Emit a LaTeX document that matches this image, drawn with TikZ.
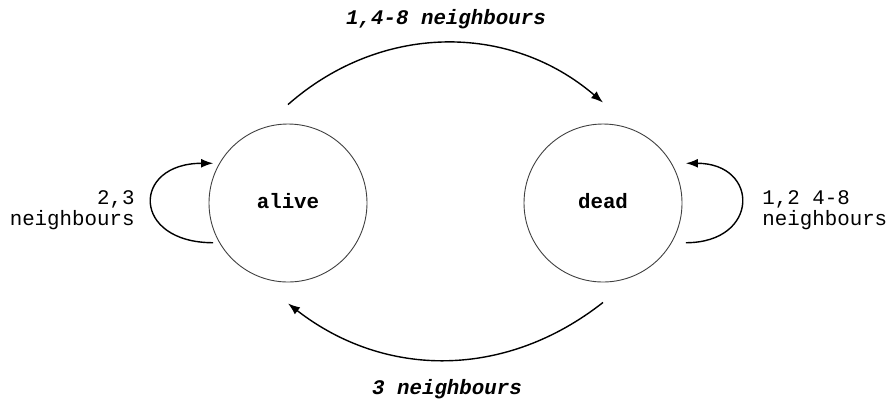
\documentclass[tikz,border=0pt]{standalone}
\usepackage{fontspec}
\setmonofont{Liberation Mono}
\usepackage{tikz}
\usetikzlibrary{arrows.meta}
\tikzset{
  >=latex,
  % stati della cella
  node state/.style={circle,draw=black!75,line width=0.45pt,minimum size=79pt,inner sep=0,
    font=\fontsize{10.4}{10}\selectfont\ttfamily\bfseries},
  % transizioni
  connect arrow/.style={-{Latex[length=6pt,width=4.4pt]},line width=0.7pt,black},
  side label/.style={font=\fontsize{10.4}{8.6}\selectfont\ttfamily,inner sep=0},
  arc label/.style={font=\fontsize{10.4}{10}\selectfont\ttfamily\bfseries\itshape,inner sep=0}
}
\begin{document}
\begin{tikzpicture}[x=0.5pt,y=-0.5pt]
    \useasboundingbox (0,0) rectangle (887,403);
    \node[node state] (alive) at (288,203) {\raisebox{2.5pt}{alive}};
    \node[node state] (dead) at (603,203) {\raisebox{2.5pt}{dead}};
    % transizioni tra stati
    \draw[connect arrow] ([yshift=9.5pt]alive.north) to[bend left=41] ([yshift=10.5pt]dead.north);
    \draw[connect arrow] ([yshift=-10pt]dead.south) to[bend left=38] ([yshift=-10.5pt]alive.south);
    \node[arc label] (lbltop) at (446,19) {1,4-8 neighbours};
    \node[arc label] (lblbot) at (447,389) {3 neighbours};
    % anelli
    \draw[connect arrow,shorten <=3pt,shorten >=3pt] (alive.210) .. controls +(-88,0) and +(-88,0) .. (alive.150);
    \draw[connect arrow,shorten <=7pt,shorten >=7pt] (dead.-30) .. controls +(88,0) and +(88,0) .. (dead.30);
    \node[side label,align=right,anchor=east] (lblalive) at (135,210) {2,3\\neighbours};
    \node[side label,align=left,anchor=west] (lbldead) at (762,210) {1,2 4-8\\neighbours};
  \end{tikzpicture}
\end{document}
